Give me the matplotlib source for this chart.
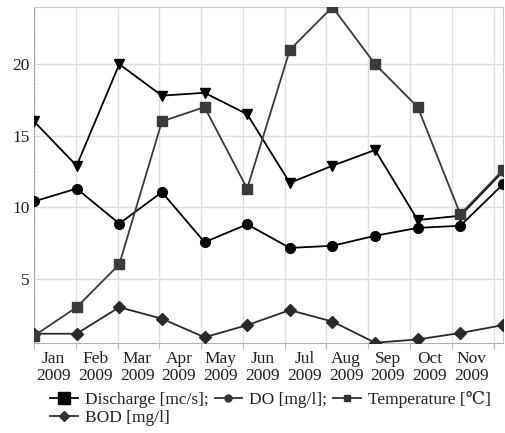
import numpy as np
import matplotlib
matplotlib.use("Agg")
import matplotlib.pyplot as plt
from matplotlib.lines import Line2D

plt.rcParams['font.family'] = ['Liberation Serif', 'DejaVu Serif', 'DejaVu Sans']

months = ["Jan", "Feb", "Mar", "Apr", "May", "Jun", "Jul", "Aug", "Sep", "Oct", "Nov"]
year = "2009"

# monthly measurements, Jan..Dec
discharge = [16.0, 12.9, 20.0, 17.8, 18.0, 16.5, 11.7, 12.9, 14.0, 9.1, 9.4, 12.5]
dissolved_o2 = [10.4, 11.3, 8.85, 11.05, 7.55, 8.8, 7.15, 7.3, 8.0, 8.55, 8.7, 11.6]
temperature = [1.0, 3.0, 6.0, 16.0, 17.0, 11.3, 21.0, 24.0, 20.0, 17.0, 9.5, 12.6]
bod = [1.15, 1.15, 3.0, 2.2, 0.9, 1.75, 2.8, 2.0, 0.52, 0.75, 1.2, 1.75]

FS = 12.5
GRID_STEP = 0.98

x = np.arange(len(discharge))

fig = plt.figure(figsize=(5.06, 4.33), dpi=100)
ax = fig.add_axes([34 / 506, 1 - 343 / 433, 469 / 506, 336 / 433])

ax.plot(x, discharge, color="black", lw=1.3, marker="v", ms=7, zorder=3)
ax.plot(x, dissolved_o2, color="black", lw=1.3, marker="o", ms=7, zorder=3)
ax.plot(x, temperature, color="#3a3a3a", lw=1.3, marker="s", ms=7, zorder=4)
ax.plot(x, bod, color="#2a2a2a", lw=1.3, marker="D", ms=6.5, zorder=3)

ax.set_xlim(0, len(discharge) - 1)
ax.set_ylim(0.5, 24)

# month boundaries carry the grid, month names sit between them
grid_x = np.arange(len(months) + 1) * GRID_STEP
ax.set_xticks(grid_x)
ax.set_xticklabels([])
ax.set_xticks((np.arange(len(months)) + 0.47) * GRID_STEP, minor=True)
ax.set_xticklabels([f"{m}\n{year}" for m in months], minor=True,
                   fontsize=FS, color="#222", linespacing=1.05)
ax.tick_params(axis="x", which="major", length=4, color="#bbbbbb")
ax.tick_params(axis="x", which="minor", length=0, pad=6)

ax.set_yticks([5, 10, 15, 20])
ax.tick_params(axis="y", length=0, pad=3, labelsize=FS, labelcolor="#222")

ax.grid(True, which="major", color="#dedede", lw=1.0)
ax.set_axisbelow(True)

for side in ("top", "right"):
    ax.spines[side].set_color("#cccccc")
ax.spines["bottom"].set_color("#b0b0b0")
ax.spines["left"].set_color("#999999")
ax.spines["left"].set_linestyle(":")

handles = [
    Line2D([], [], color="black", lw=1.3, marker="s", ms=9),
    Line2D([], [], color="#333", lw=1.3, marker="D", ms=5),
    Line2D([], [], color="#333", lw=1.3, marker="o", ms=5),
    Line2D([], [], color="#333", lw=1.3, marker="s", ms=5),
]
labels = ["Discharge [mc/s];", "BOD [mg/l]", "DO [mg/l];", "Temperature [\u2103]"]
fig.legend(handles, labels, ncol=3, loc="upper left",
           bbox_to_anchor=(50 / 506, 1 - 391 / 433), frameon=False,
           fontsize=FS, handlelength=1.6, handletextpad=0.4,
           columnspacing=0.35, labelspacing=0.1, borderpad=0,
           borderaxespad=0, labelcolor="#222")

fig.savefig("out.png", dpi=100)
